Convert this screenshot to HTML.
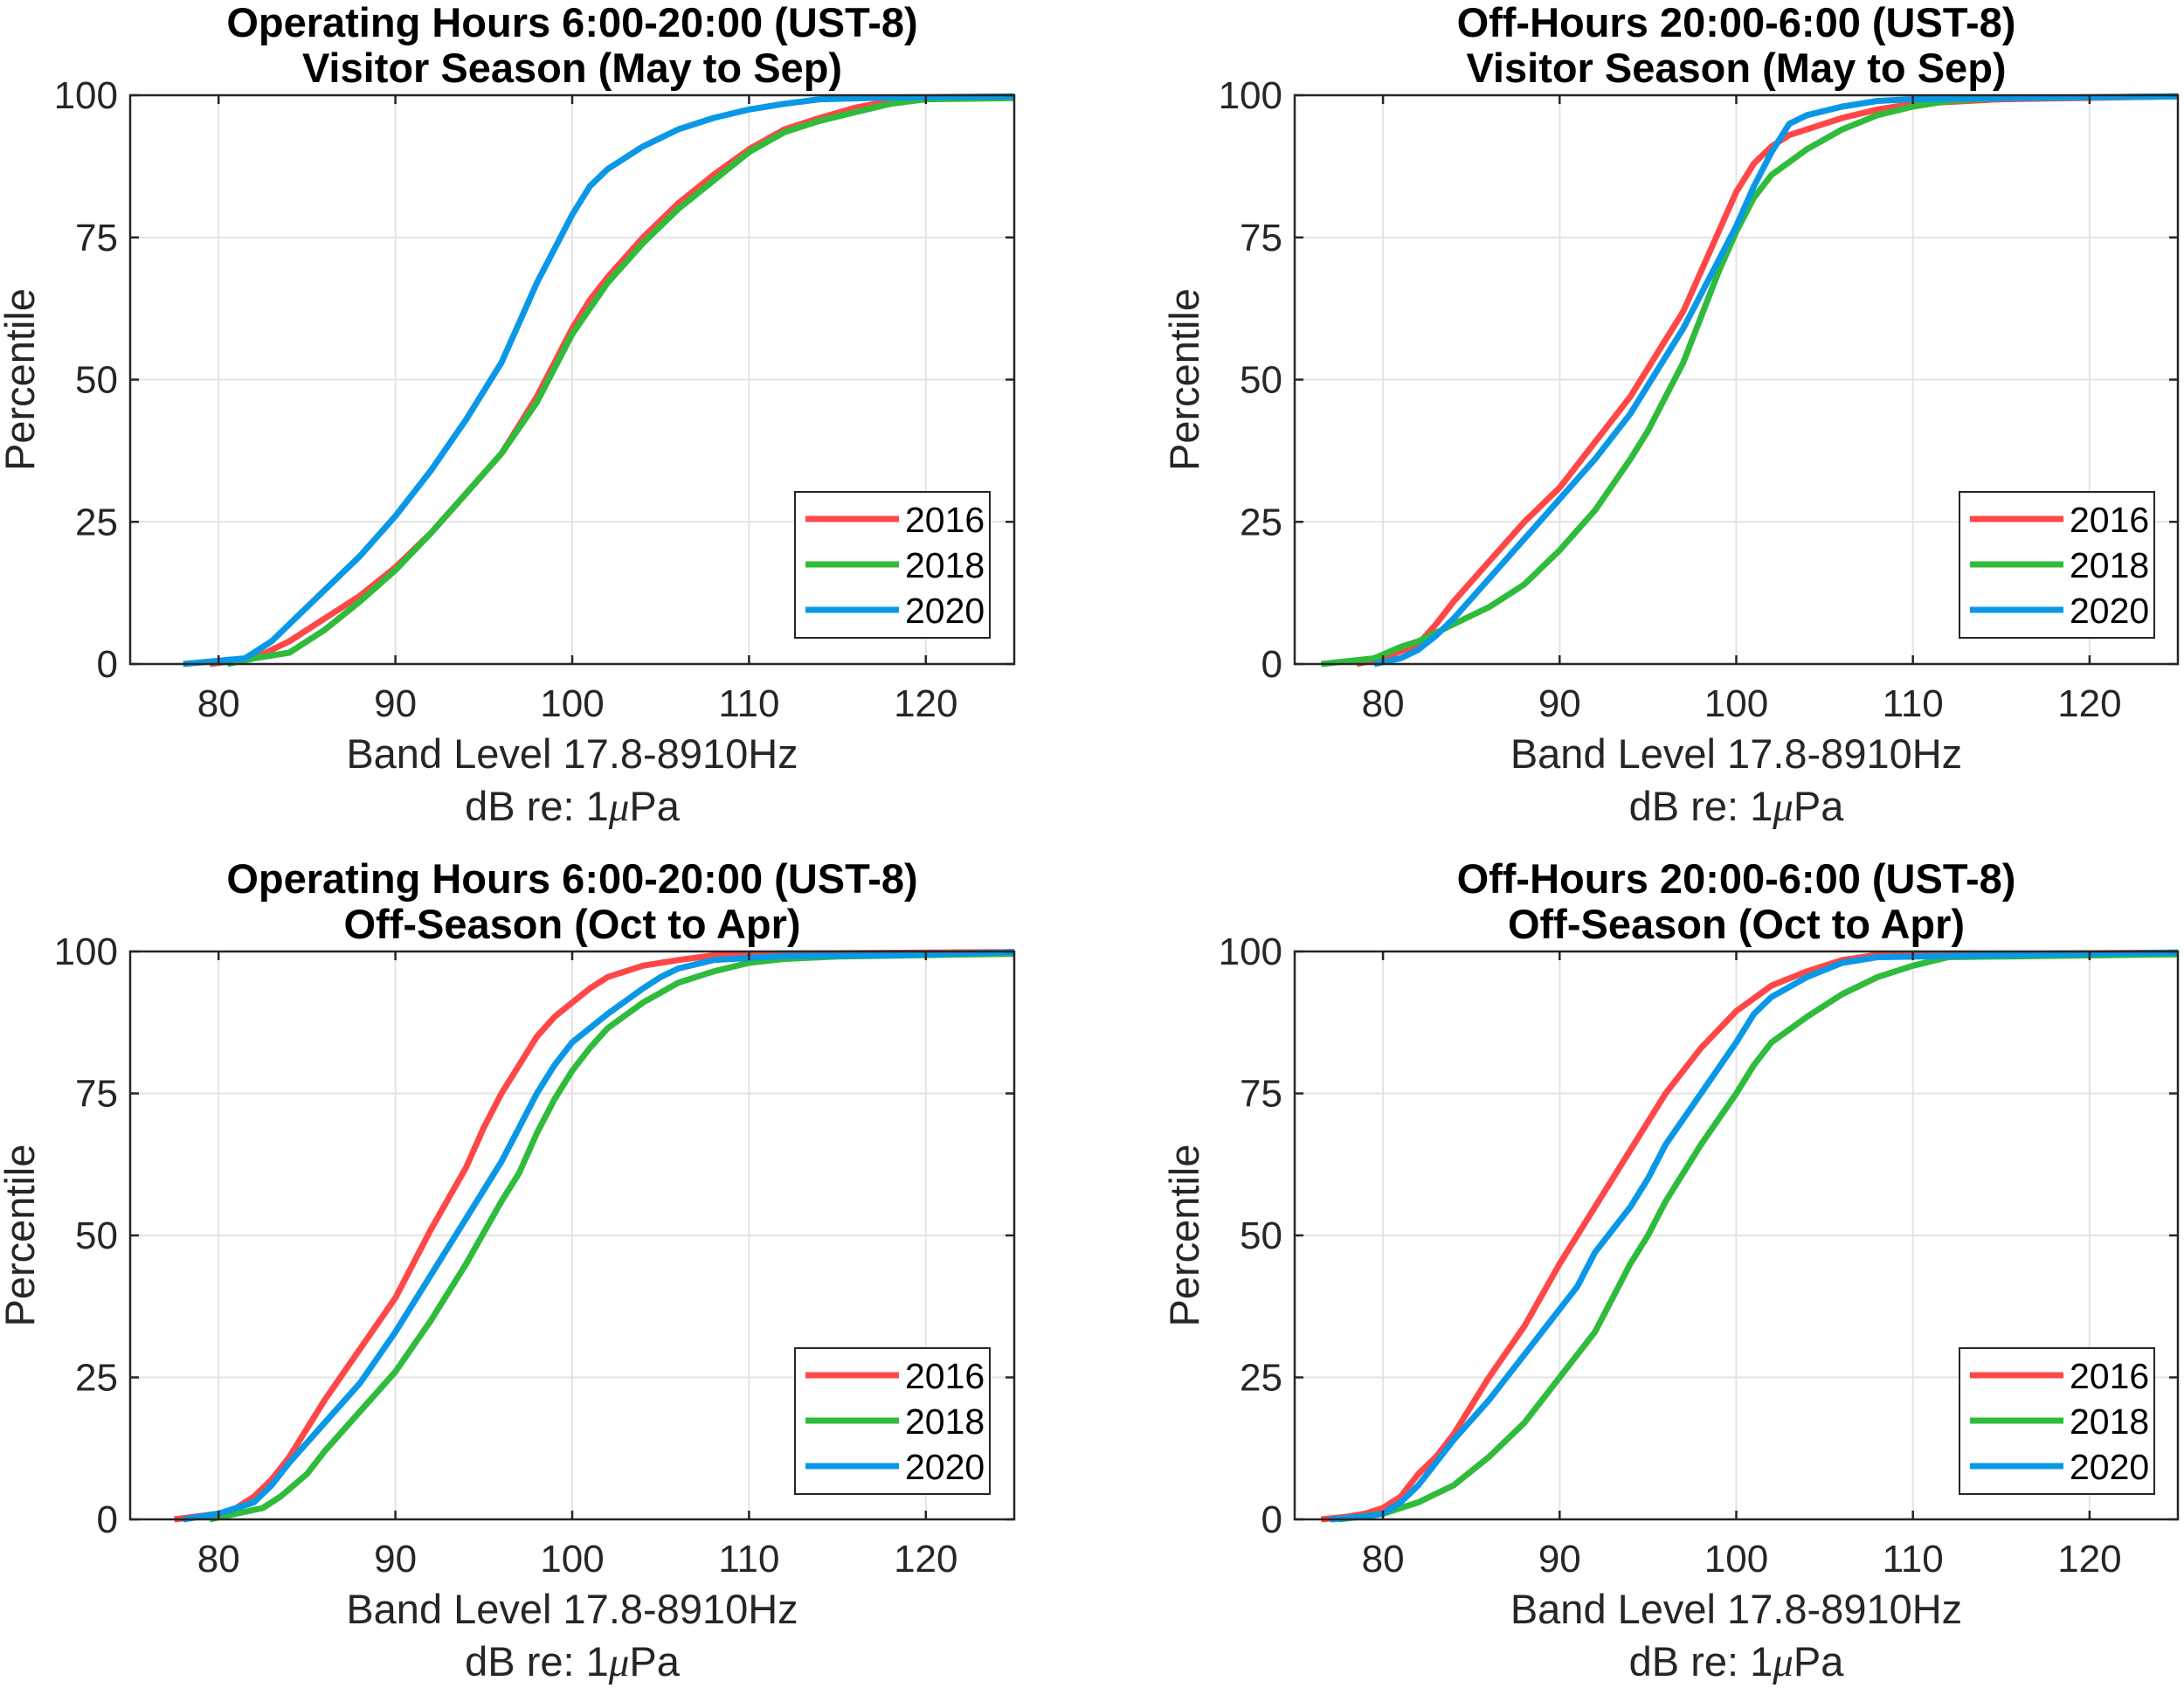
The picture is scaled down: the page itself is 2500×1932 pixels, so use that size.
<!DOCTYPE html>
<html><head><meta charset="utf-8"><style>
html,body{margin:0;padding:0;background:#fff;}
svg{display:block;font-family:"Liberation Sans",Arial,sans-serif;}
</style></head><body>
<svg id="fig" width="2500" height="1932" viewBox="0 0 2500 1932" xmlns="http://www.w3.org/2000/svg"></svg>
<script>
// ---- data ----
const xTicks = [80, 90, 100, 110, 120];
const yTicks = [0, 25, 50, 75, 100];
const years = ["2016", "2018", "2020"];
const titles1 = ["Operating Hours 6:00-20:00 (UST-8)", "Off-Hours 20:00-6:00 (UST-8)", "Operating Hours 6:00-20:00 (UST-8)", "Off-Hours 20:00-6:00 (UST-8)"];
const titles2 = ["Visitor Season (May to Sep)", "Visitor Season (May to Sep)", "Off-Season (Oct to Apr)", "Off-Season (Oct to Apr)"];

// Panel 1: Operating hours, visitor season
const p1x2016 = [79.5,82,84,86,88,90,92,94,96,97,98,99,100,101,102,104,106,108,110,112,114,116,118,120,125];
const p1y2016 = [0,1,4,8,12,17,23,30,37,42,47,53,59,64,68,75,81,86,90.5,94,96,97.8,99,99.5,99.7];
const p1x2018 = [80.5,82,84,86,88,90,92,94,96,98,100,102,104,106,108,110,112,114,116,118,120,125];
const p1y2018 = [0,1,2,6,11,16.5,23,30,37,46,58,67,74,80,85,90,93.5,95.5,97,98.5,99.3,99.5];
const p1x2020 = [78,81.5,83,84,86,88,90,92,94,96,97,98,99,100,101,102,104,106,108,110,112,114,118,125];
const p1y2020 = [0,1,4,7,13,19,26,34,43,53,60,67,73,79,84,87,91,94,96,97.5,98.5,99.3,99.6,99.8];

// Panel 2: Off-hours, visitor season
const p2x2016 = [78.5,80,82,83,84,86,88,90,92,94,95,96,97,98,99,100,101,102,103,104,106,108,110,115,125];
const p2y2016 = [0,1,3.5,7,11,18,25,31,39,47,52,57,62,69,76,83,88,91,93,94,96,97.5,98.5,99.3,99.8];
const p2x2018 = [76.5,79.5,81,82,84,86,88,90,92,94,95,96,97,98,99,100,101,102,104,106,108,110,112,115,125];
const p2y2018 = [0,1,3,4,7,10,14,20,27,36,41,47,53,61,69,76,82,86,90.5,94,96.5,98,99,99.5,99.8];
const p2x2020 = [79.5,81,82,83,84,86,88,90,92,94,95,96,97,98,99,100,101,102,103,104,106,108,110,125];
const p2y2020 = [0,1,2.5,5,8,15,22,29,36,44,49,54,59,65,71,77,84,90,95,96.5,98,99,99.3,99.8];

// Panel 3: Operating hours, off-season
const p3x2016 = [77.5,80,81,82,83,84,85,86,88,90,92,94,95,96,97,98,99,100,101,102,104,106,108,110,125];
const p3y2016 = [0,1,2,4,7,11,16,21,30,39,51,62,69,75,80,85,88.5,91,93.5,95.5,97.5,98.5,99.3,99.6,99.9];
const p3x2018 = [79.5,81,82.5,83.5,85,86,88,90,92,94,96,97,98,99,100,101,102,104,106,108,110,112,115,125];
const p3y2018 = [0,1,2,4,8,12,19,26,35,45,56,61,68,74,79,83,86.5,91,94.5,96.5,98,98.7,99.1,99.6];
const p3x2020 = [78,80,82,83,84,86,88,90,92,94,96,97,98,99,100,102,104,105,106,108,112,118,125];
const p3y2020 = [0,1,3,6,10,17,24,33,43,53,63,69,75,80,84,89,93.5,95.5,97,98.5,99.2,99.3,99.9];

// Panel 4: Off-hours, off-season
const p4x2016 = [76.5,78,79,80,81,82,83,84,85,86,88,90,91,92,94,96,98,100,102,104,106,108,125];
const p4y2016 = [0,0.5,1,2,4,8,11,15,20,25,34,45,50,55,65,75,83,89.5,94,96.5,98.5,99.4,99.8];
const p4x2018 = [77.5,80,82,84,86,88,90,92,93,94,95,96,98,100,101,102,104,106,108,110,112,125];
const p4y2018 = [0,1,3,6,11,17,25,33,39,45,50,56,66,75,80,84,88.5,92.5,95.5,97.5,99,99.5];
const p4x2020 = [77,79,80,81,82,83,84,86,88,90,91,92,94,95,96,98,100,101,102,104,106,108,112,125];
const p4y2020 = [0,0.5,1,3,6,10,14,21,29,37,41,47,55,60,66,75,84,89,92,95.5,98,99,99.2,99.8];

const panelX = [[p1x2016,p1x2018,p1x2020],[p2x2016,p2x2018,p2x2020],[p3x2016,p3x2018,p3x2020],[p4x2016,p4x2018,p4x2020]];
const panelY = [[p1y2016,p1y2018,p1y2020],[p2y2016,p2y2018,p2y2020],[p3y2016,p3y2018,p3y2020],[p4y2016,p4y2018,p4y2020]];

// ---- layout ----
const colors = ["#ff4747", "#2fbb3b", "#0a98e6"];
const NS = "http://www.w3.org/2000/svg";
const svg = document.getElementById("fig");
const xMin = 75, xMax = 125, yMin = 0, yMax = 100;
const boxes = [
  {l:149, r:1161, t:109, b:760},
  {l:1482, r:2493, t:109, b:760},
  {l:149, r:1161, t:1089, b:1739},
  {l:1482, r:2493, t:1089, b:1739}
];
function mk(tag, attrs, parent) {
  const e = document.createElementNS(NS, tag);
  for (const k in attrs) e.setAttribute(k, attrs[k]);
  (parent || svg).appendChild(e);
  return e;
}
boxes.forEach((bx, pi) => {
  const sx = v => bx.l + (v - xMin) / (xMax - xMin) * (bx.r - bx.l);
  const sy = v => bx.b - (v - yMin) / (yMax - yMin) * (bx.b - bx.t);
  const g = mk("g", {});
  
  
  xTicks.forEach(t => {
    const ln = mk("line", {x1:sx(t), x2:sx(t), y1:bx.t, y2:bx.b, stroke:"#e3e3e3", "stroke-width":2}, g);
    
    
  });
  yTicks.forEach(t => {
    const ln = mk("line", {x1:bx.l, x2:bx.r, y1:sy(t), y2:sy(t), stroke:"#e3e3e3", "stroke-width":2}, g);
    
    
  });
  years.forEach((yr, si) => {
    const xs = panelX[pi][si], ys = panelY[pi][si];
    const d = xs.map((v, i) => (i ? "L" : "M") + sx(v).toFixed(1) + "," + sy(ys[i]).toFixed(1)).join(" ");
    const p = mk("path", {d:d, fill:"none", stroke:colors[si], "stroke-width":7, "stroke-linejoin":"round"}, g);
    
    
  });
  const rect = mk("rect", {x:bx.l, y:bx.t, width:bx.r - bx.l, height:bx.b - bx.t, fill:"none", stroke:"#262626", "stroke-width":2.5}, g);
  
  
  xTicks.forEach(t => {
    mk("line", {x1:sx(t), x2:sx(t), y1:bx.b, y2:bx.b - 10, stroke:"#262626", "stroke-width":2.5}, g);
    mk("line", {x1:sx(t), x2:sx(t), y1:bx.t, y2:bx.t + 10, stroke:"#262626", "stroke-width":2.5}, g);
    const tx = mk("text", {x:sx(t), y:bx.b + 60, "text-anchor":"middle", "font-size":44, fill:"#262626"}, g);
    tx.textContent = t;
    
    
  });
  yTicks.forEach(t => {
    mk("line", {x1:bx.l, x2:bx.l + 10, y1:sy(t), y2:sy(t), stroke:"#262626", "stroke-width":2.5}, g);
    mk("line", {x1:bx.r, x2:bx.r - 10, y1:sy(t), y2:sy(t), stroke:"#262626", "stroke-width":2.5}, g);
    const tx = mk("text", {x:bx.l - 14, y:sy(t) + 15, "text-anchor":"end", "font-size":44, fill:"#262626"}, g);
    tx.textContent = t;
    
    
  });
  const cx = (bx.l + bx.r) / 2;
  const t1 = mk("text", {x:cx, y:bx.t - 67, "text-anchor":"middle", "font-size":47, "font-weight":"bold", fill:"#000"}, g);
  t1.textContent = titles1[pi];
  
  
  const t2 = mk("text", {x:cx, y:bx.t - 15, "text-anchor":"middle", "font-size":47, "font-weight":"bold", fill:"#000"}, g);
  t2.textContent = titles2[pi];
  
  
  const xl1 = mk("text", {x:cx, y:bx.b + 119, "text-anchor":"middle", "font-size":47, fill:"#262626"}, g);
  xl1.textContent = "Band Level 17.8-8910Hz";
  
  
  const xl2 = mk("text", {x:cx, y:bx.b + 179, "text-anchor":"middle", "font-size":47, fill:"#262626"}, g);
  xl2.innerHTML = 'dB re: 1<tspan font-family="Liberation Serif, serif" font-style="italic">μ</tspan>Pa';
  
  
  const yc = (bx.t + bx.b) / 2;
  const yl = mk("text", {x:bx.l - 110, y:yc, "text-anchor":"middle", "font-size":47, fill:"#262626", transform:"rotate(-90 " + (bx.l - 110) + " " + yc + ")"}, g);
  yl.textContent = "Percentile";
  
  
  const lg = mk("g", {}, g);
  
  
  const lx = bx.l + 761, ly = bx.t + 454;
  mk("rect", {x:lx, y:ly, width:223, height:167, fill:"#fff", stroke:"#262626", "stroke-width":2}, lg);
  years.forEach((yr, si) => {
    const yy = ly + 31 + si * 52;
    const e = mk("g", {}, lg);
    
    
    mk("line", {x1:lx + 12, x2:lx + 119, y1:yy, y2:yy, stroke:colors[si], "stroke-width":7}, e);
    const tt = mk("text", {x:lx + 126, y:yy + 15, "font-size":41, fill:"#000"}, e);
    tt.textContent = yr;
  });
});
</script>
</body></html>
